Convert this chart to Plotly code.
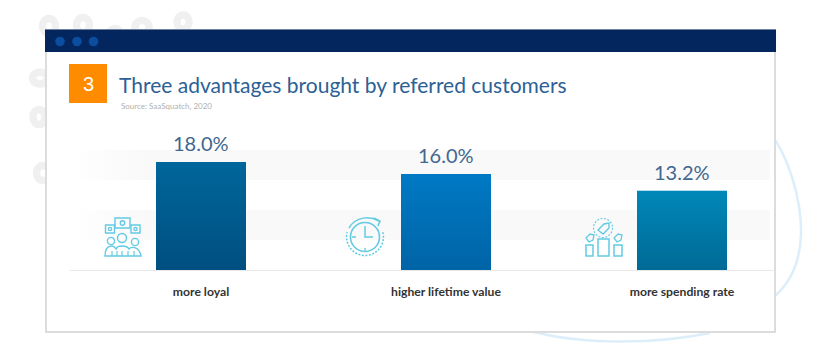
import base64
import math
import plotly.graph_objects as go

categories = ["more loyal", "higher lifetime value", "more spending rate"]
values = [18.0, 16.0, 13.2]
bar_centres = [201, 446, 682]
value_labels = ["18.0%", "16.0%", "13.2%"]
top_colours = ["#00669b", "#0079c4", "#0088b8"]
bottom_colours = ["#004f80", "#0064a6", "#006a96"]
title = "Three advantages brought by referred customers"
source = "Source: SaaSquatch, 2020"
badge = "3"

W, H = 820, 359
L, R, T, B = 70, 775, 150, 270
BAR_W = 90


def px(x):
    return (x - L) / (R - L)


def py(y):
    return (B - y) / (B - T)


def svg_uri(body):
    svg = ('<svg xmlns="http://www.w3.org/2000/svg" width="100" height="100" '
           'viewBox="0 0 100 100" preserveAspectRatio="none">' + body + '</svg>')
    return "data:image/svg+xml;base64," + base64.b64encode(svg.encode()).decode()


def grad(c1, c2, x2=0, y2=1):
    return svg_uri(f'<defs><linearGradient id="g" x1="0" y1="0" x2="{x2}" y2="{y2}">'
                   f'<stop offset="0" stop-color="{c1}"/><stop offset="1" stop-color="{c2}"/>'
                   '</linearGradient></defs><rect width="100" height="100" fill="url(#g)"/>')


def rect(x0, y0, x1, y1, fill=None, line=None, lw=0, layer="below"):
    return dict(type="rect", xref="paper", yref="paper", x0=px(x0), x1=px(x1), y0=py(y1), y1=py(y0),
                fillcolor=fill or "rgba(0,0,0,0)", line=dict(color=line or "rgba(0,0,0,0)", width=lw), layer=layer)


def circle(cx, cy, r, fill=None, line=None, lw=0, dash=None, layer="below", ry=None):
    ln = dict(color=line or "rgba(0,0,0,0)", width=lw)
    if dash:
        ln["dash"] = dash
    ry = ry or r
    return dict(type="circle", xref="paper", yref="paper", x0=px(cx - r), x1=px(cx + r), y0=py(cy + ry), y1=py(cy - ry),
                fillcolor=fill or "rgba(0,0,0,0)", line=ln, layer=layer)


def path(cmds, line, lw, fill=None, dash=None, layer="below"):
    out = []
    for c in cmds:
        if isinstance(c, str):
            out.append(c)
        else:
            out.append(f"{px(c[0]):.5f},{py(c[1]):.5f}")
    ln = dict(color=line, width=lw)
    if dash:
        ln["dash"] = dash
    return dict(type="path", xref="paper", yref="paper", path=" ".join(out), line=ln,
                fillcolor=fill or "rgba(0,0,0,0)", layer=layer)


shapes = []
# soft page decoration behind the card
RING = "#f0f0f0"
for cx, cy, r, ry in [(49, 26, 6.5, 7.5), (83, 25, 6.5, 7.5), (115, 34, 5.5, 5.5), (142, 27, 7, 6.5), (183, 22, 6, 7),
                      (40, 78, 7.5, 6), (39, 117, 6, 7.5), (43, 173, 6.5, 7.5)]:
    shapes.append(circle(cx, cy, r, ry=ry, line=RING, lw=7.5))
BLUE_LINE = "#ddeefb"
shapes.append(path(["M", (770, 133), "C", (788, 155), (802, 200), (801, 235), "C", (800, 262), (790, 285), (770, 300)],
                   BLUE_LINE, 2.5))
shapes.append(path(["M", (530, 331), "C", (570, 342), (640, 347), (710, 333)], BLUE_LINE, 2.5))

# card
shapes.append(rect(46, 30, 775, 332, fill="#ffffff", line="#dcdcdc", lw=2))
shapes.append(rect(45, 29.5, 776, 52, fill="#03265e"))
for cx in [60, 77, 93.5]:
    shapes.append(circle(cx, 41.5, 4.8, fill="#0b4e9f"))
shapes.append(rect(69, 64, 107, 103, fill="#ff8c00"))

icons = []
ICON = "#62cbe3"
# icon 1: speech bubbles and people
for x0, y0, x1, y1 in [(115, 218, 130, 228), (105.5, 225, 114.5, 233), (131, 225, 140, 233)]:
    icons.append(rect(x0, y0, x1, y1, line=ICON, lw=1.4))
for cx, cy, r in [(122.5, 223, 2.2), (110, 229, 1.6), (135.5, 229, 1.6),
                  (111, 241, 3.6), (122, 238, 4.5), (135, 242, 3.6)]:
    icons.append(circle(cx, cy, r, line=ICON, lw=1.4))
icons.append(path(["M", (105, 256), "C", (105, 248), (108, 246), (112, 246), "C", (114, 246), (115, 248), (116, 249),
                   "C", (117, 245), (127, 245), (129, 249), "C", (130, 247), (139, 245), (141, 256), "Z"], ICON, 1.4))
for x in [112, 117, 122, 128, 134]:
    icons.append(path(["M", (x, 251), "L", (x, 256)], ICON, 1.2))

# icon 2: clock with arrow
icons.append(circle(365, 237, 14.5, line=ICON, lw=1.6))
icons.append(path(["M", (365, 226), "L", (365, 237), "L", (373, 237)], ICON, 1.5))
icons.append(path(["M", (352, 237), "L", (356, 237), "M", (365, 248), "L", (365, 251)], ICON, 1.3))
arc = []
for a in range(-15, 205, 10):
    t = math.radians(a)
    arc += ["M" if not arc else "L", (365 + 18.5 * math.cos(t), 237 + 18.5 * math.sin(t))]
icons.append(path(arc, ICON, 1.5, dash="2px,1.5px"))
icons.append(path(["M", (349, 228), "C", (356, 216), (370, 216), (379, 221), "M", (374, 218), "L", (380, 221), "L", (378, 226)],
                  ICON, 1.5))

# icon 3: price tags and columns
icons.append(circle(603, 228, 9.5, line=ICON, lw=1.1, dash="2px,1.5px"))
icons.append(path(["M", (598, 230), "L", (604, 224), "L", (609, 223), "L", (609, 228), "L", (603, 234), "Z"], ICON, 1.4))
for x0, y0, x1, y1 in [(586, 245, 593, 256), (598, 239, 609, 256), (614, 245, 622, 256)]:
    icons.append(rect(x0, y0, x1, y1, line=ICON, lw=1.5))
icons.append(path(["M", (586, 238), "L", (590, 234), "L", (594, 235), "L", (593, 240), "L", (589, 242), "Z"], ICON, 1.3))
icons.append(path(["M", (614, 238), "L", (618, 234), "L", (622, 235), "L", (621, 240), "L", (617, 242), "Z"], ICON, 1.3))
for s in icons:
    s["layer"] = "above"
shapes += icons

images = []
for y_hi, y_lo in [(20, 15), (10, 5)]:
    images.append(dict(source=grad("#ffffff", "#f9f9f9", x2=0.1, y2=0), xref="x", yref="y", x=L + 3, y=y_hi,
                       sizex=770 - L - 3, sizey=y_hi - y_lo, sizing="stretch", xanchor="left", yanchor="top",
                       layer="below"))
for c, v, c1, c2 in zip(bar_centres, values, top_colours, bottom_colours):
    images.append(dict(source=grad(c1, c2), xref="x", yref="y", x=c - BAR_W / 2, y=v, sizex=BAR_W, sizey=v,
                       sizing="stretch", xanchor="left", yanchor="top", layer="above"))

fig = go.Figure(go.Bar(
    x=bar_centres, y=values, width=BAR_W, cliponaxis=False,
    marker=dict(color=top_colours, line=dict(width=0)), hoverinfo="skip"))


def note(x, y, text, size, color, family="Lato", anchor="left"):
    return dict(x=px(x), y=py(y), xref="paper", yref="paper", text=text, showarrow=False, xanchor=anchor,
                yanchor="middle", font=dict(family=family, size=size, color=color))


value_notes = [dict(x=c, y=v, xref="x", yref="y", text=t, showarrow=False, xanchor="center", yanchor="middle", yshift=19,
                    font=dict(family="Lato", size=20, color="#41678f"))
               for c, v, t in zip(bar_centres, values, value_labels)]

fig.update_layout(
    width=W, height=H, autosize=False, showlegend=False,
    margin=dict(l=L, r=W - R, t=T, b=H - B, pad=0),
    paper_bgcolor="#ffffff", plot_bgcolor="rgba(0,0,0,0)",
    shapes=shapes, images=images,
    annotations=[
        note(117, 84, title, 21, "#2b6195"),
        note(119, 106, source, 8, "#b0b0b0"),
        note(88, 84, badge, 20, "#ffffff", family="Liberation Sans", anchor="center"),
    ] + value_notes,
    xaxis=dict(range=[L, R], tickmode="array", tickvals=bar_centres, ticktext=[f"<b>{c}</b>" for c in categories],
               ticks="", showgrid=False, zeroline=False, showline=True, linecolor="#e8e8e8", linewidth=1,
               tickfont=dict(family="Lato", size=12.2, color="#333333"), ticklabelstandoff=10),
    yaxis=dict(range=[0, 20], visible=False, showgrid=False, zeroline=False),
)
fig.write_html("out.html", config=dict(displayModeBar=False),
               post_script="document.body.style.margin='0';document.body.style.overflow='hidden';")
